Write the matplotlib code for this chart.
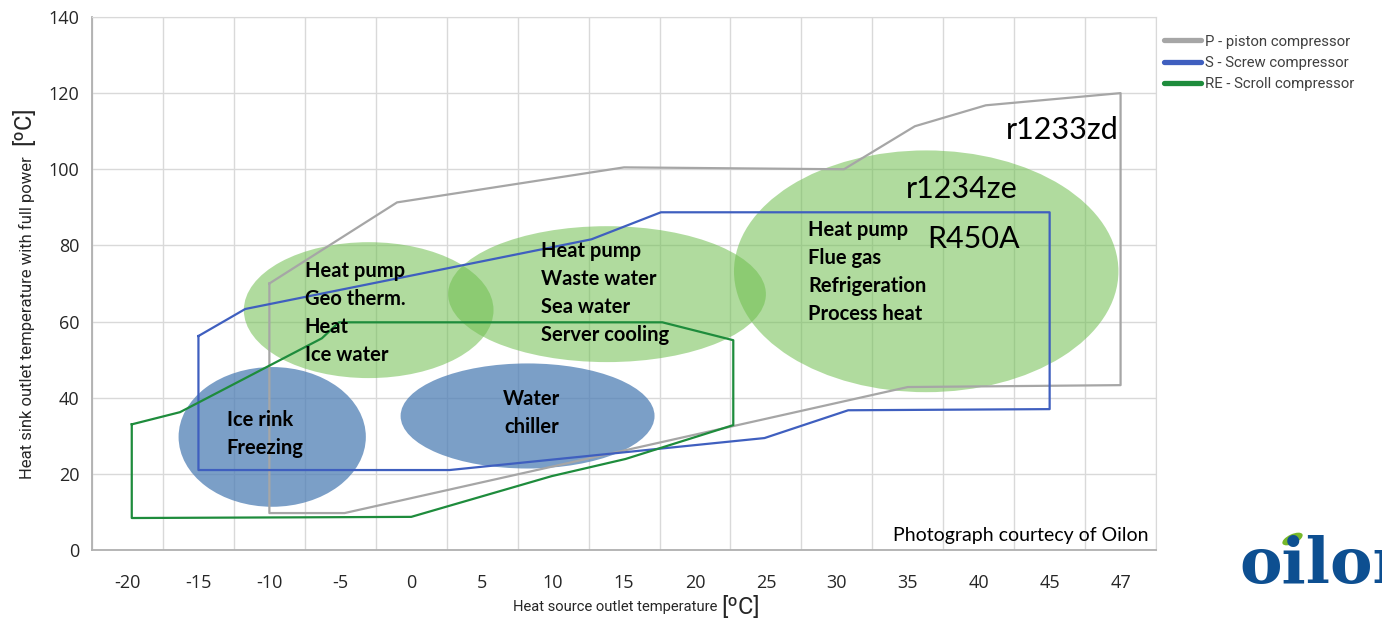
# Heat pump operating envelopes (Oilon) - recreation
import numpy as np
import matplotlib.pyplot as plt
from matplotlib.patches import Ellipse
from matplotlib.lines import Line2D

# axis ticks (equal steps on the chart, the last one is 47)
X_TICKS = [-20, -15, -10, -5, 0, 5, 10, 15, 20, 25, 30, 35, 40, 45, 47]
Y_TICKS = [0, 20, 40, 60, 80, 100, 120, 140]

# P - piston compressor envelope
P_X = [-10, -1, 15, 30.5, 35.5, 40.5, 47, 47, 35, -4.7, -10, -10]
P_Y = [70, 91.3, 100.5, 100, 111.3, 116.8, 120, 43.3, 42.8, 9.7, 9.7, 70]

# S - screw compressor envelope
S_X = [-15, -11.7, 12.7, 17.6, 45, 45, 30.8, 24.9, 2.7, -15, -15]
S_Y = [56.2, 63.3, 81.6, 88.7, 88.7, 37, 36.7, 29.4, 21, 21, 56.2]

# RE - scroll compressor envelope
RE_X = [-19.7, -16.3, -6.3, -5.1, 17.7, 22.7, 22.7, 15.1, 9.9, 0, -19.7, -19.7]
RE_Y = [33, 36.2, 55.6, 59.8, 59.8, 55.1, 32.8, 23.9, 19.4, 8.7, 8.4, 33]

# application areas (green = heating, blue = cooling)
HEAT_CX = [-3.0, 13.8, 36.3]
HEAT_CY = [63.0, 67.2, 73.2]
HEAT_W = [17.6, 22.4, 27.1]
HEAT_H = [35.7, 35.7, 63.5]
COOL_CX = [-9.8, 8.2]
COOL_CY = [29.7, 35.2]
COOL_W = [13.2, 17.9]
COOL_H = [36.7, 27.6]

HEAT_TEXT = ["Heat pump\nGeo therm.\nHeat\nIce water",
             "Heat pump\nWaste water\nSea water\nServer cooling",
             "Heat pump\nFlue gas\nRefrigeration\nProcess heat"]
COOL_TEXT = ["Ice rink\nFreezing", "Water\nchiller"]
REFRIGERANTS = ["r1233zd", "r1234ze", "R450A"]

LEGEND = ["P - piston compressor", "S - Screw compressor", "RE - Scroll compressor"]
COLORS = ["#a6a6a6", "#3f5fbf", "#1e8c3c"]


# 45 -> 47 is drawn as one full step on the chart
def tx(x):
    return np.interp(x, [-20, 45, 47], [-20, 45, 50])


fig = plt.figure(figsize=(13.82, 6.24), dpi=100)
ax = fig.add_axes([0.0666, 0.1186, 0.7699, 0.8542])

# ellipses
for cx, cy, w, h in zip(HEAT_CX, HEAT_CY, HEAT_W, HEAT_H):
    ax.add_patch(Ellipse((tx(cx), cy), w, h, facecolor="#6fbf4f", alpha=0.55,
                         edgecolor="none", zorder=2))
for cx, cy, w, h in zip(COOL_CX, COOL_CY, COOL_W, COOL_H):
    ax.add_patch(Ellipse((tx(cx), cy), w, h, facecolor="#4f7fb5", alpha=0.75,
                         edgecolor="none", zorder=2))

# envelopes
for xs, ys, c in zip([P_X, S_X, RE_X], [P_Y, S_Y, RE_Y], COLORS):
    ax.plot(tx(xs), ys, color=c, linewidth=1.6, zorder=3)

# text in the areas
bold = dict(family="Lato", weight="bold", fontsize=14.5, color="black",
            linespacing=1.5, zorder=5)
ax.text(-7.5, 76.0, HEAT_TEXT[0], ha="left", va="top", **bold)
ax.text(9.15, 81.2, HEAT_TEXT[1], ha="left", va="top", **bold)
ax.text(27.96, 86.8, HEAT_TEXT[2], ha="left", va="top", **bold)
ax.text(-13.0, 36.7, COOL_TEXT[0], ha="left", va="top", **bold)
ax.text(8.5, 42.2, COOL_TEXT[1], ha="center", va="top", **bold)

ref = dict(family="Lato", fontsize=22, color="black", zorder=5)
ax.text(41.9, 110.2, REFRIGERANTS[0], ha="left", va="center", **ref)
ax.text(34.9, 94.8, REFRIGERANTS[1], ha="left", va="center", **ref)
ax.text(36.4, 81.6, REFRIGERANTS[2], ha="left", va="center", **ref)

ax.text(0.993, 0.012, "Photograph courtecy of Oilon", transform=ax.transAxes,
        ha="right", va="bottom", family="Lato", fontsize=14, color="black",
        zorder=6)

# axes, grid
ax.set_xlim(-22.5, 52.5)
ax.set_ylim(0, 140)
ax.set_xticks(tx(X_TICKS))
ax.set_xticklabels([str(v) for v in X_TICKS])
ax.set_xticks(np.arange(-22.5, 53, 5), minor=True)
ax.set_yticks(Y_TICKS)
ax.tick_params(axis="x", which="both", length=0, pad=17, labelsize=13,
               labelcolor="#262626")
ax.tick_params(axis="y", length=0, pad=9, labelsize=13, labelcolor="#262626")
for lab in ax.get_xticklabels() + ax.get_yticklabels():
    lab.set_family("Open Sans")
ax.grid(True, which="minor", axis="x", color="#d9d9d9", linewidth=1, zorder=0)
ax.grid(True, which="major", axis="y", color="#d9d9d9", linewidth=1, zorder=0)
ax.set_axisbelow(True)
for s in ["top", "right"]:
    ax.spines[s].set_color("#d9d9d9")
for s in ["left", "bottom"]:
    ax.spines[s].set_color("#b0b0b0")
    ax.spines[s].set_linewidth(1.3)

# axis titles with a larger unit
fig.text(0.519, 0.0165, "Heat source outlet temperature", ha="right", va="bottom",
         family="Roboto", fontsize=10.6, color="#262626")
fig.text(0.522, 0.0075, "[ºC]", ha="left", va="bottom",
         family="Roboto", fontsize=17, color="#262626")
fig.text(0.014, 0.232, "Heat sink outlet temperature with full power", rotation=90,
         ha="left", va="bottom", family="Roboto", fontsize=12, color="#262626")
fig.text(0.009, 0.768, "[ºC]", rotation=90, ha="left", va="bottom",
         family="Roboto", fontsize=17, color="#262626")

# legend outside the plot
handles = [Line2D([], [], color=c, linewidth=3.8, solid_capstyle="round") for c in COLORS]
fig.legend(handles, LEGEND, loc="upper left", bbox_to_anchor=(0.8325, 0.966),
           frameon=False, handlelength=2.5, handletextpad=0.25, labelspacing=0.5,
           prop=dict(family="Roboto", size=10.7), labelcolor="#404040")

# logo, cut at the right edge
fig.text(0.897, 0.065, "oilon", ha="left", va="baseline", family="DejaVu Serif",
         weight="bold", fontsize=46, color="#0d4f91")
fig.add_artist(Ellipse((12.925, 0.85), 0.22, 0.095, angle=25, facecolor="#76b82a",
                       edgecolor="none", transform=fig.dpi_scale_trans))

fig.savefig("out.png", dpi=100)
